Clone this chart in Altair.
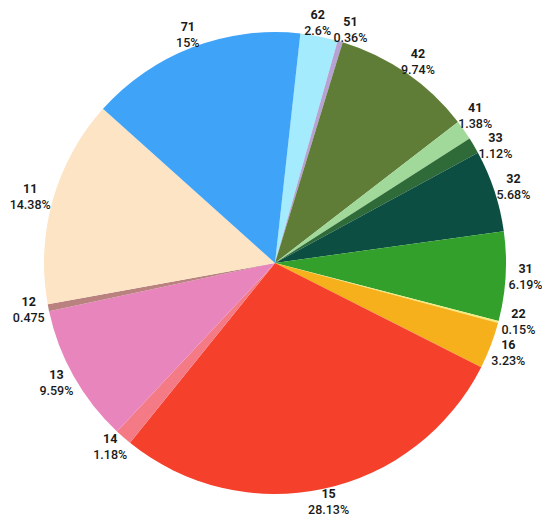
import math
import altair as alt
import pandas as pd

categories = ["62", "51", "42", "41", "33", "32", "31", "22", "16", "15", "14", "13", "12", "11", "71"]
values = [2.6, 0.36, 9.74, 1.38, 1.12, 5.68, 6.19, 0.15, 3.23, 28.13, 1.18, 9.59, 0.475, 14.38, 15]
pct_labels = ["2.6%", "0.36%", "9.74%", "1.38%", "1.12%", "5.68%", "6.19%", "0.15%", "3.23%",
              "28.13%", "1.18%", "9.59%", "0.475", "14.38%", "15%"]
colors = ["#a3ebfd", "#b7a2d4", "#5f7d37", "#a1d99b", "#2f6b38", "#0c4f42", "#33a02c", "#f3eb7a",
          "#f5b01b", "#f5402c", "#f47a85", "#e985bd", "#b9827f", "#fde4c4", "#3fa3f8"]

START_DEG = 6.3
PIE_R = 231
LABEL_R0 = 234
BOX_H = 30

# --- label layout: mid angle of each slice, then push neighbours apart ---
total = sum(values)
mids = []
cum = 0.0
for v in values:
    mids.append(START_DEG + (cum + v / 2) / total * 360)
    cum += v
widths = [6.8 * max(len(c), len(p)) for c, p in zip(categories, pct_labels)]


def centre(a_deg, w):
    a = math.radians(a_deg)
    dx = (LABEL_R0 + w / 2) * math.sin(a)
    dy = -(LABEL_R0 + 10) * math.cos(a)
    return dx, dy


def overlap(i, j, angs):
    x1, y1 = centre(angs[i], widths[i])
    x2, y2 = centre(angs[j], widths[j])
    return abs(x1 - x2) < (widths[i] + widths[j]) / 2 + 2 and abs(y1 - y2) < BOX_H


angs = list(mids)
n = len(angs)
for _ in range(3000):
    moved = False
    for i in range(n):
        j = (i + 1) % n
        if overlap(i, j, angs):
            angs[i] -= 0.1
            angs[j] += 0.1
            moved = True
    if not moved:
        break

lab_theta, lab_r = [], []
for a, w in zip(angs, widths):
    dx, dy = centre(a, w)
    lab_theta.append(math.degrees(math.atan2(dx, -dy)) % 360)
    lab_r.append(math.hypot(dx, dy))

df = pd.DataFrame({
    "cat": categories,
    "value": values,
    "pct": pct_labels,
    "order": list(range(n)),
    "lt": lab_theta,
    "lr": lab_r,
})

theta = alt.Theta("value:Q", stack=True,
                  scale=alt.Scale(range=[math.radians(START_DEG), math.radians(START_DEG) + 2 * math.pi]))
color = alt.Color("cat:N", scale=alt.Scale(domain=categories, range=colors), legend=None)

pie = alt.Chart(df).mark_arc(outerRadius=PIE_R).encode(
    theta=theta, color=color, order=alt.Order("order:Q", sort="ascending"))

lt = alt.Theta("lt:Q", stack=False, scale=alt.Scale(domain=[0, 360], range=[0, 2 * math.pi]))
lr = alt.Radius("lr:Q", scale=None)

lab1 = alt.Chart(df).mark_text(dy=-8, font="Roboto", fontSize=12.5, fontWeight="bold",
                               color="#1a1a1a", align="center", baseline="middle").encode(
    theta=lt, radius=lr, text="cat:N")
lab2 = alt.Chart(df).mark_text(dy=8, font="Roboto", fontSize=12.5, fontWeight=500,
                               color="#1a1a1a", align="center", baseline="middle").encode(
    theta=lt, radius=lr, text="pct:N")

chart = (pie + lab1 + lab2).resolve_scale(theta="independent").properties(
    width=534, height=494, autosize="none",
    padding={"left": 0, "top": 8, "right": 0, "bottom": 12},
).configure_view(stroke=None)

chart.save("out.html", embed_options={"renderer": "svg", "actions": False})
